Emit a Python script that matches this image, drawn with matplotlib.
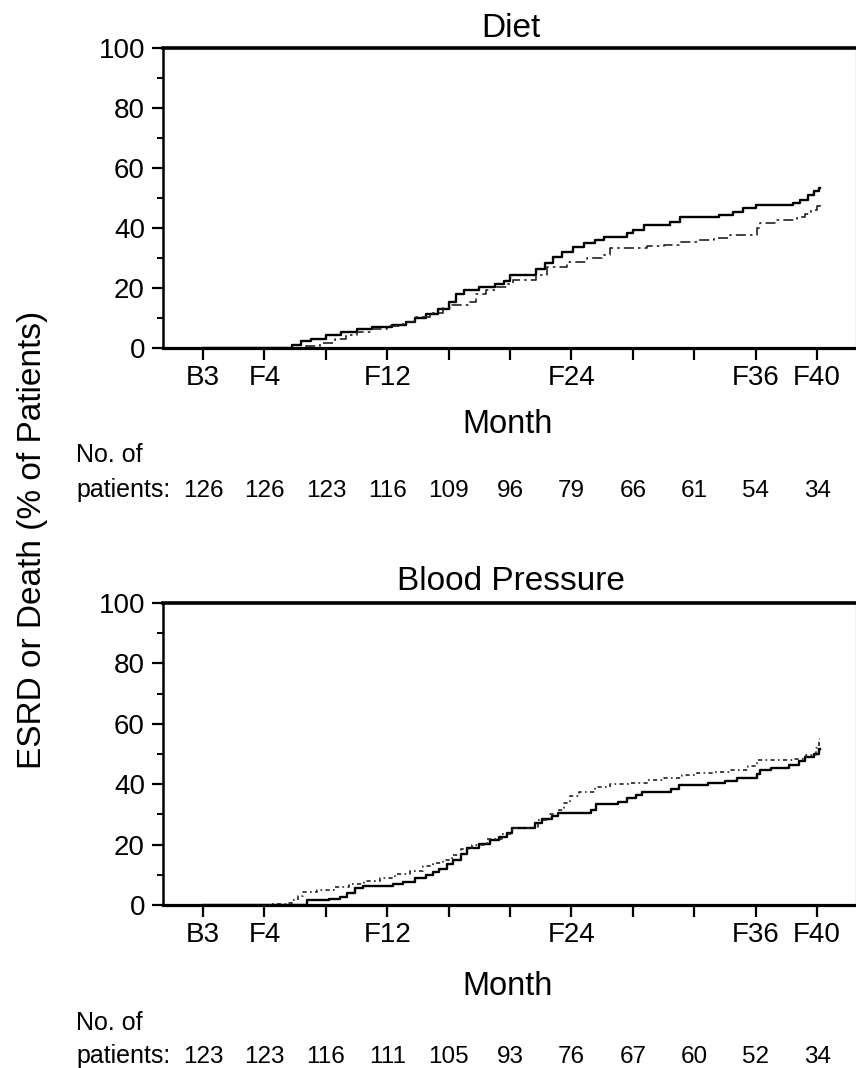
import matplotlib
matplotlib.use("Agg")
import matplotlib.pyplot as plt
from matplotlib import transforms

plt.rcParams['font.family'] = ['Liberation Sans', 'DejaVu Sans']

# month ticks (B3 = baseline, then follow-up months)
tick_months = [0, 4, 8, 12, 16, 20, 24, 28, 32, 36, 40]
tick_labels = ["B3", "F4", "", "F12", "", "", "F24", "", "", "F36", "F40"]

# Diet panel
diet_solid_m = [0, 5.8, 6.4, 7.0, 8.0, 9.0, 10.0, 11.0, 12.3, 13.2, 13.8, 14.5, 15.3, 16.0,
                16.5, 17.0, 18.0, 19.0, 19.6, 20.0, 21.7, 22.3, 22.8, 23.4, 24.1, 24.8, 25.5,
                26.1, 27.6, 28.0, 28.7, 30.4, 31.1, 33.6, 34.5, 35.2, 36.0, 38.4, 38.9, 39.4,
                39.8, 40.1, 40.2]
diet_solid_y = [0, 1.0, 2.5, 3.0, 4.5, 5.5, 6.3, 7.0, 7.8, 8.6, 10.0, 11.5, 13.0, 15.5,
                18.0, 19.5, 20.3, 21.5, 22.5, 24.3, 26.5, 28.5, 30.5, 32.0, 33.7, 35.0, 36.0,
                37.0, 38.5, 39.5, 41.0, 42.0, 43.7, 44.5, 45.5, 46.7, 47.7, 48.5, 49.5, 51.0,
                52.3, 53.5, 53.5]
diet_dash_m = [0, 6.6, 7.6, 8.6, 9.3, 10.0, 11.0, 12.0, 13.0, 13.8, 14.8, 15.6, 16.2, 17.4,
               17.8, 18.4, 19.0, 19.8, 20.2, 21.7, 22.4, 23.7, 25.0, 26.0, 26.5, 28.9, 30.0,
               31.0, 32.2, 33.3, 34.3, 36.1, 36.3, 37.4, 38.7, 39.2, 39.6, 40.0, 40.2]
diet_dash_y = [0, 0.8, 1.8, 3.0, 4.2, 5.5, 6.5, 7.5, 8.8, 10.5, 11.7, 13.2, 14.5, 15.5,
               18.0, 19.5, 20.5, 21.5, 22.7, 24.5, 27.0, 28.7, 30.0, 31.0, 33.3, 34.0, 34.5,
               35.2, 36.0, 36.8, 37.7, 40.0, 41.7, 42.7, 43.7, 44.8, 46.0, 47.5, 48.5]
diet_n = [126, 126, 123, 116, 109, 96, 79, 66, 61, 54, 34]

# Blood pressure panel
bp_solid_m = [0, 6.8, 8.2, 8.9, 9.4, 9.9, 10.4, 12.4, 13.0, 13.8, 14.5, 15.0, 15.4, 15.9,
              16.3, 16.8, 17.2, 18.0, 18.7, 19.3, 19.8, 20.1, 21.6, 22.1, 22.7, 23.1, 25.3,
              25.6, 27.0, 27.6, 28.2, 28.6, 30.5, 31.0, 32.9, 34.0, 34.8, 36.1, 36.3, 37.0,
              38.2, 38.8, 39.2, 39.8, 40.1, 40.2]
bp_solid_y = [0, 1.5, 2.0, 2.8, 4.0, 5.5, 6.3, 6.8, 7.6, 8.8, 10.0, 11.0, 12.0, 13.5,
              15.0, 17.0, 18.9, 20.2, 21.5, 22.5, 24.0, 25.5, 27.0, 28.5, 29.5, 30.5, 31.5,
              33.4, 34.1, 35.5, 36.5, 37.4, 38.5, 39.7, 40.4, 41.2, 42.1, 43.5, 44.7, 45.5,
              46.4, 47.8, 49.0, 50.0, 51.5, 51.5]
bp_dot_m = [0, 4.5, 5.4, 5.8, 6.2, 6.5, 7.4, 8.5, 9.5, 10.5, 11.5, 12.5, 13.5, 14.3, 15.0,
            15.6, 16.2, 16.8, 17.5, 18.5, 19.5, 20.1, 21.8, 22.6, 23.2, 23.5, 23.9, 24.5,
            25.5, 26.5, 27.8, 29.0, 30.0, 31.2, 32.2, 33.3, 34.3, 35.5, 36.1, 38.5, 39.3,
            39.9, 40.1, 40.2]
bp_dot_y = [0, 0.3, 0.8, 1.7, 3.0, 4.3, 5.0, 5.8, 6.8, 7.8, 9.0, 10.2, 11.3, 12.8, 14.0,
            15.0, 16.5, 18.5, 20.0, 21.8, 23.5, 25.5, 28.0, 30.0, 31.5, 33.8, 36.0, 37.5,
            39.0, 40.0, 40.4, 41.3, 42.1, 43.0, 43.7, 44.2, 44.7, 46.0, 48.0, 48.5, 49.7,
            52.0, 55.0, 55.0]
bp_n = [123, 123, 116, 111, 105, 93, 76, 67, 60, 52, 34]

W, H = 856, 1068
fig = plt.figure(figsize=(W / 100, H / 100), dpi=100)


def fy(py):
    return 1 - py / H


def panel(rect, title, title_base, s_m, s_y, d_m, d_y, dash, counts, rows):
    ax = fig.add_axes(rect)
    ax.plot(s_m, s_y, drawstyle="steps-post", color="black", lw=1.7)
    ax.plot(d_m, d_y, drawstyle="steps-post", color="#222222", lw=1.2, dashes=dash)
    ax.set_xlim(-2.61, 42.5)
    ax.set_ylim(0, 100)
    ax.set_xticks(tick_months)
    ax.set_xticklabels(tick_labels, fontsize=20)
    ax.set_yticks(range(0, 101, 20))
    ax.set_yticks(range(10, 100, 20), minor=True)
    ax.tick_params(axis="y", labelsize=20, direction="out", length=8, width=1.6, pad=5)
    ax.tick_params(axis="y", which="minor", direction="out", length=4.5, width=1.4)
    ax.tick_params(axis="x", direction="out", length=8.5, width=1.6, pad=4)
    ax.spines["top"].set_linewidth(2.6)
    ax.spines["bottom"].set_linewidth(2.3)
    ax.spines["left"].set_linewidth(1.8)
    ax.spines["right"].set_linewidth(0.8)
    fig.text(511 / W, fy(title_base), title, ha="center", va="baseline", fontsize=24)
    month_base, no_base, pat_base = rows
    fig.text(508 / W, fy(month_base), "Month", ha="center", va="baseline", fontsize=23.5)
    fig.text(76 / W, fy(no_base), "No. of", ha="left", va="baseline", fontsize=18)
    fig.text(76 / W, fy(pat_base), "patients:", ha="left", va="baseline", fontsize=18)
    tr = transforms.blended_transform_factory(ax.transData, fig.transFigure)
    for m, n in zip(tick_months, counts):
        ax.text(m, fy(pat_base), str(n), transform=tr, ha="center", va="baseline",
                fontsize=17.5)
    return ax


panel([163 / W, fy(348), 692.5 / W, 300 / H], "Diet", 37,
      diet_solid_m, diet_solid_y, diet_dash_m, diet_dash_y, (6, 2.5, 1.5, 2.5),
      diet_n, (433, 462, 497))
panel([163 / W, fy(905), 692.5 / W, 302 / H], "Blood Pressure", 590,
      bp_solid_m, bp_solid_y, bp_dot_m, bp_dot_y, (2.5, 2, 1, 2),
      bp_n, (995, 1030, 1063))

fig.text(33 / W, fy(540), "ESRD or Death (% of Patients)", rotation=90,
         ha="center", va="center", fontsize=24)

fig.savefig("out.png", dpi=100)
